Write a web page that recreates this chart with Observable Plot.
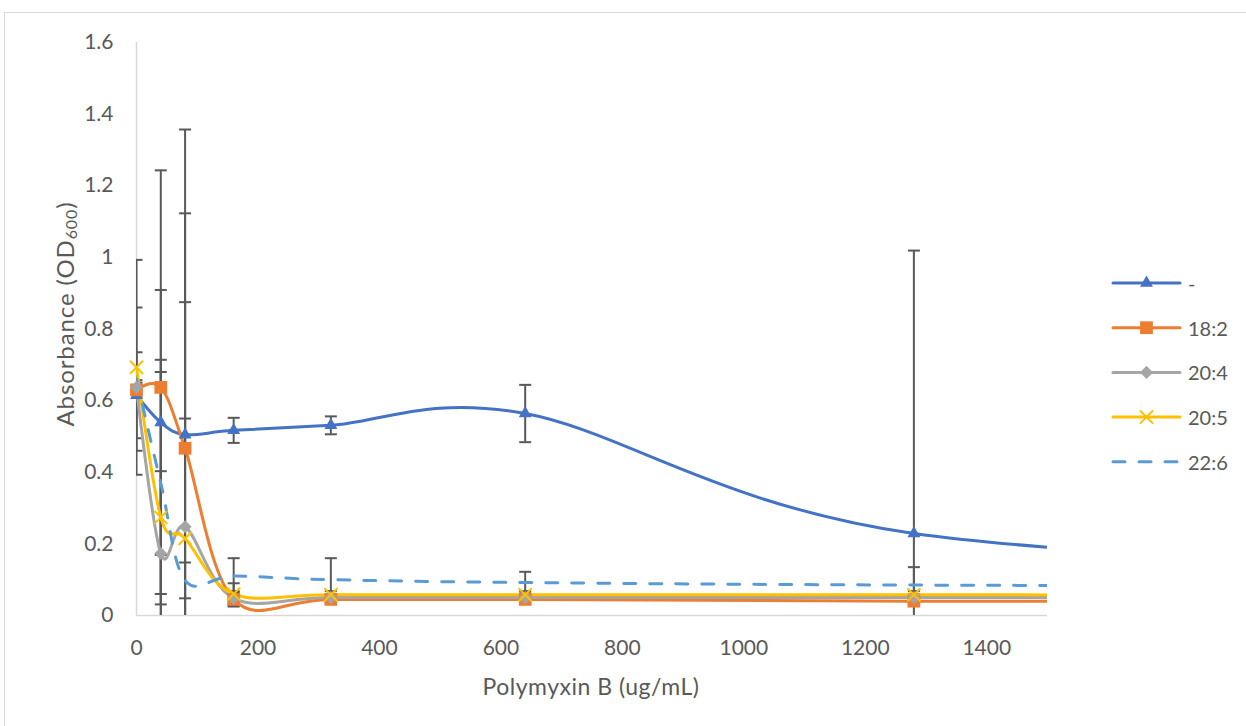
<!DOCTYPE html>
<html><head><meta charset="utf-8">
<script src="https://cdn.jsdelivr.net/npm/d3@7"></script>
<script src="https://cdn.jsdelivr.net/npm/@observablehq/plot@0.6"></script>
<style>
body{margin:0;background:#fff;font-family:Lato,sans-serif;}
#frame{position:absolute;left:4px;top:12px;width:1260px;height:730px;border-left:1px solid #d9d9d9;border-top:1px solid #d9d9d9;}
#chart{position:absolute;left:0;top:0;}
</style></head><body><div id="frame"></div><div id="chart"></div>
<script>
// Concentrations (ug/mL); last point lies beyond the visible axis
const conc = [0, 40, 80, 160, 320, 640, 1280, 2560];
const seriesNames = ["-", "18:2", "20:4", "20:5", "22:6"];
const valNone = [0.615, 0.539, 0.505, 0.517, 0.531, 0.564, 0.229, 0.10];
const val182  = [0.630, 0.637, 0.467, 0.045, 0.045, 0.045, 0.040, 0.040];
const val204  = [0.637, 0.173, 0.248, 0.048, 0.050, 0.050, 0.050, 0.050];
const val205  = [0.693, 0.274, 0.215, 0.060, 0.058, 0.058, 0.058, 0.055];
const val226  = [0.660, 0.370, 0.098, 0.110, 0.100, 0.092, 0.085, 0.080];
// Standard deviations (error bars)
const errNone = [0.12, 0.37, 0.045, 0.035, 0.025, 0.08, 0.79, null];
const err182  = [0.02, 0.606, 0.89, 0.02, 0.01, 0.01, 0.01, null];
const err204  = [0.02, 0.23, 0.875, 0.02, 0.01, 0.01, 0.01, null];
const err205  = [0.30, 0.44, 0.66, 0.03, 0.01, 0.01, 0.01, null];
const err226  = [0.20, 0.31, 0.05, 0.05, 0.06, 0.03, 0.05, null];
const xTicks = [0, 200, 400, 600, 800, 1000, 1200, 1400];
const yTicks = [0, 0.2, 0.4, 0.6, 0.8, 1.0, 1.2, 1.4, 1.6];

const allVals = [valNone, val182, val204, val205, val226];
const allErrs = [errNone, err182, err204, err205, err226];
const colors = ["#4472C4", "#ED7D31", "#A5A5A5", "#FFC000", "#5B9BD5"];
const symbols = ["triangle", "square", "diamond2", "times", null];
const markerR = [4.8, 7.2, 5.9, 6.0, 0];

const rows = [];
seriesNames.forEach((s, i) => conc.forEach((c, j) => rows.push({series: s, si: i, x: c, y: allVals[i][j], err: allErrs[i][j]})));
const errRows = rows.filter(d => d.err != null);
const capRows = errRows.flatMap(d => [{x: d.x, y: d.y - d.err}, {x: d.x, y: d.y + d.err}]);

const capSymbol = {draw(ctx, size) { const w = Math.sqrt(size / Math.PI); ctx.moveTo(-w, 0); ctx.lineTo(w, 0); }};

const marks = [
  Plot.ruleY([0], {stroke: "#d9d9d9", strokeWidth: 1.5}),
  Plot.ruleX([0], {stroke: "#d9d9d9", strokeWidth: 1.5}),
  Plot.ruleX(errRows, {x: "x", y1: d => d.y - d.err, y2: d => d.y + d.err, stroke: "#595959", strokeWidth: 2, clip: true}),
  Plot.dot(capRows, {x: "x", y: "y", symbol: capSymbol, r: 6, stroke: "#595959", strokeWidth: 2, fill: "none", clip: true})
];
seriesNames.forEach((s, i) => {
  const data = rows.filter(d => d.si === i);
  marks.push(Plot.line(data, {x: "x", y: "y", stroke: colors[i], strokeWidth: 3, curve: "cardinal", clip: true,
    strokeDasharray: i === 4 ? "12,14" : null, strokeLinecap: "round"}));
});
seriesNames.forEach((s, i) => {
  if (!symbols[i]) return;
  const data = rows.filter(d => d.si === i && d.x <= 1500);
  const isStroke = symbols[i] === "times";
  marks.push(Plot.dot(data, {x: "x", y: "y", symbol: symbols[i], r: markerR[i],
    fill: isStroke ? "none" : colors[i], stroke: isStroke ? colors[i] : "none", strokeWidth: isStroke ? 2 : 0}));
});

const chart = Plot.plot({
  width: 1246, height: 726,
  marginLeft: 136, marginRight: 199, marginTop: 42, marginBottom: 111,
  style: {fontFamily: "Lato, sans-serif", fontSize: "21px", color: "#595959", background: "transparent", overflow: "visible"},
  x: {domain: [0, 1500], ticks: xTicks, tickFormat: d => String(d), tickSize: 0, tickPadding: 25, label: null},
  y: {domain: [0, 1.6], ticks: yTicks, tickFormat: d => String(+d.toFixed(1)), tickSize: 0, tickPadding: 23, label: null},
  marks
});
document.getElementById("chart").appendChild(chart);

const svg = d3.select(chart);
// Axis titles
const yt = svg.append("text").attr("transform", "translate(64,314) rotate(-90)")
  .attr("text-anchor", "middle").attr("dominant-baseline", "central")
  .attr("fill", "#595959").style("font-size", "24px").style("letter-spacing", "0.9px").style("font-family", "Lato, sans-serif");
yt.append("tspan").text("Absorbance (OD");
yt.append("tspan").text("600").style("font-size", "16px").attr("dy", "6");
yt.append("tspan").text(")").attr("dy", "-6");
svg.append("text").attr("x", 591).attr("y", 686).attr("text-anchor", "middle").attr("dominant-baseline", "central")
  .attr("fill", "#595959").style("font-size", "23px").style("letter-spacing", "0.5px").style("font-family", "Lato, sans-serif").text("Polymyxin B (ug/mL)");

// Legend
const lg = svg.append("g");
seriesNames.forEach((s, i) => {
  const y = 283 + i * 44.7;
  lg.append("line").attr("x1", 1113).attr("x2", 1180).attr("y1", y).attr("y2", y)
    .attr("stroke", colors[i]).attr("stroke-width", 3).attr("stroke-linecap", "round")
    .attr("stroke-dasharray", i === 4 ? "12,14" : null);
  if (symbols[i]) {
    const symMap = {triangle: d3.symbolTriangle, square: d3.symbolSquare, diamond2: d3.symbolDiamond2, times: d3.symbolTimes};
    const isStroke = symbols[i] === "times";
    lg.append("path").attr("transform", `translate(1146.5,${y})`)
      .attr("d", d3.symbol(symMap[symbols[i]], Math.PI * markerR[i] * markerR[i])())
      .attr("fill", isStroke ? "none" : colors[i]).attr("stroke", isStroke ? colors[i] : "none").attr("stroke-width", 2);
  }
  lg.append("text").attr("x", 1188).attr("y", y).attr("text-anchor", "start").attr("dominant-baseline", "central")
    .attr("fill", "#595959").style("font-size", "20px").style("font-family", "Lato, sans-serif").text(s);
});
</script>
</body></html>
